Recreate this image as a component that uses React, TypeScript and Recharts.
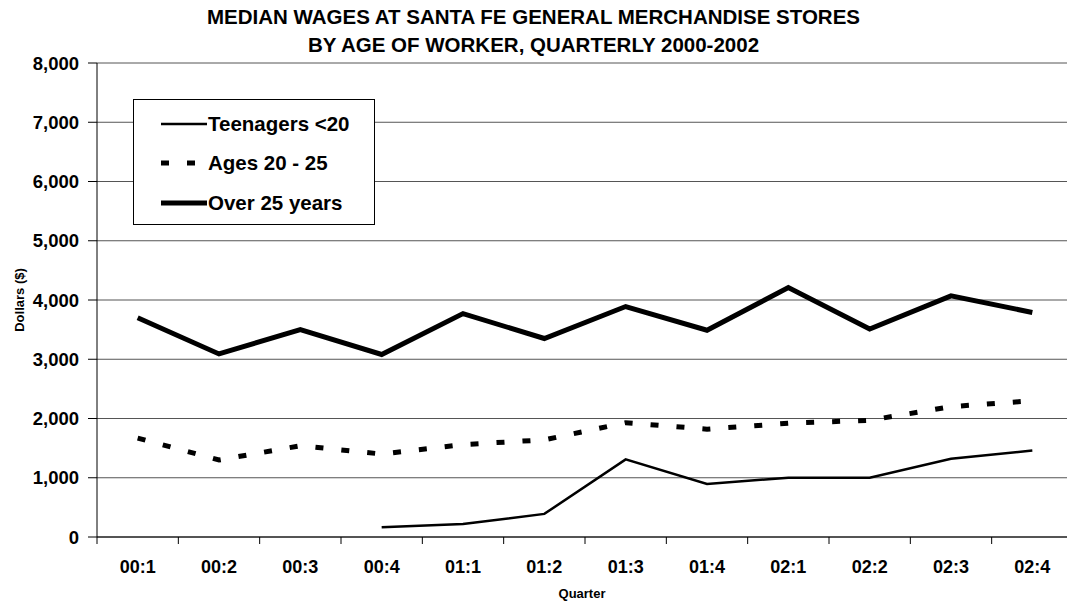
import React from 'react';
import { LineChart, Line, XAxis, YAxis, CartesianGrid, Legend } from 'recharts';

const quarters = ['00:1', '00:2', '00:3', '00:4', '01:1', '01:2', '01:3', '01:4', '02:1', '02:2', '02:3', '02:4'];
const teenagers = [null, null, null, 165, 220, 390, 1310, 895, 1000, 1000, 1320, 1460];
const ages20to25 = [1670, 1300, 1540, 1400, 1560, 1640, 1930, 1820, 1920, 1970, 2200, 2300];
const over25 = [3700, 3090, 3500, 3080, 3770, 3350, 3890, 3490, 4210, 3510, 4070, 3790];
const yTicks = [0, 1000, 2000, 3000, 4000, 5000, 6000, 7000, 8000];

const FONT = '"Liberation Sans", Arial, sans-serif';

// series config, also used by the legend
const SERIES = [
  { key: 'teen', name: 'Teenagers <20', width: 2.5, dash: undefined as string | undefined },
  { key: 'ages', name: 'Ages 20 - 25', width: 5, dash: '8 18' },
  { key: 'over', name: 'Over 25 years', width: 5, dash: undefined as string | undefined },
];

const data = quarters.map((q, i) => ({
  q,
  pos: i + 0.5,
  teen: teenagers[i],
  ages: ages20to25[i],
  over: over25[i],
}));

// x ticks: integers = category boundaries (tick marks), halves = category labels
const xTicks: number[] = [];
for (let i = 0; i <= quarters.length * 2; i++) xTicks.push(i / 2);

const tickStyle = { fontFamily: FONT, fontWeight: 'bold', fontSize: 18, fill: '#000' };

const QuarterTick = (props: any) => {
  const { x, y, payload } = props;
  const v = payload.value as number;
  if (Number.isInteger(v)) {
    return <line x1={x} y1={y} x2={x} y2={y + 7} stroke="#000" strokeWidth={1} />;
  }
  return (
    <text x={x} y={y + 23} dy="0.71em" textAnchor="middle" {...tickStyle}>
      {quarters[Math.floor(v)]}
    </text>
  );
};

const LegendBox = () => (
  <div
    style={{
      width: 242,
      height: 126,
      boxSizing: 'border-box',
      border: '1px solid #000',
      background: '#fff',
      paddingTop: 4,
      paddingLeft: 27,
      fontFamily: FONT,
    }}
  >
    {SERIES.map((s) => (
      <div key={s.key} style={{ display: 'flex', alignItems: 'center', height: 39.5 }}>
        <svg width={46} height={10} style={{ display: 'block' }}>
          <line x1={0} y1={5} x2={46} y2={5} stroke="#000" strokeWidth={s.width} strokeDasharray={s.dash} />
        </svg>
        <span style={{ fontSize: 20.5, fontWeight: 'bold', color: '#000', marginLeft: 1 }}>{s.name}</span>
      </div>
    ))}
  </div>
);

export default function App() {
  return (
    <div
      style={{
        position: 'fixed',
        left: 0,
        top: 0,
        width: 1067,
        height: 603,
        overflow: 'hidden',
        background: '#fff',
        fontFamily: FONT,
      }}
    >
      <LineChart
        width={1073}
        height={603}
        data={data}
        margin={{ top: 63, right: 0, bottom: 0, left: 0 }}
        style={{ position: 'absolute', left: 0, top: 0 }}
      >
        <CartesianGrid vertical={false} stroke="#555" strokeWidth={1} />
        <XAxis
          type="number"
          dataKey="pos"
          domain={[0, 12]}
          ticks={xTicks}
          interval={0}
          tickLine={false}
          tickSize={0}
          tickMargin={0}
          tick={<QuarterTick />}
          height={66}
          stroke="#000"
          allowDataOverflow
        />
        <YAxis
          type="number"
          domain={[0, 8000]}
          ticks={yTicks}
          width={97}
          tickSize={9}
          tickMargin={9}
          stroke="#000"
          tick={{ ...tickStyle, fontSize: 18.5 }}
          tickFormatter={(v: number) => v.toLocaleString('en-US')}
        />
        <Legend
          layout="vertical"
          align="center"
          verticalAlign="middle"
          content={() => <LegendBox />}
          wrapperStyle={{ position: 'absolute', left: 133, top: 99, width: 242, height: 126 }}
        />
        {SERIES.map((s) => (
          <Line
            key={s.key}
            type="linear"
            dataKey={s.key}
            name={s.name}
            stroke="#000"
            strokeWidth={s.width}
            strokeDasharray={s.dash}
            dot={false}
            activeDot={false}
            connectNulls={false}
            isAnimationActive={false}
          />
        ))}
      </LineChart>

      <div
        style={{
          position: 'absolute',
          left: 0,
          top: 3,
          width: 1067,
          textAlign: 'center',
          fontSize: 20.5,
          lineHeight: '28px',
          fontWeight: 'bold',
          color: '#000',
        }}
      >
        MEDIAN WAGES AT SANTA FE GENERAL MERCHANDISE STORES
        <br />
        BY AGE OF WORKER, QUARTERLY 2000-2002
      </div>
      <div
        style={{
          position: 'absolute',
          left: 19,
          top: 300,
          transform: 'translate(-50%, -50%) rotate(-90deg)',
          fontSize: 13,
          fontWeight: 'bold',
          whiteSpace: 'nowrap',
          color: '#000',
        }}
      >
        Dollars ($)
      </div>
      <div
        style={{
          position: 'absolute',
          left: 582,
          top: 593,
          transform: 'translate(-50%, -50%)',
          fontSize: 13,
          fontWeight: 'bold',
          whiteSpace: 'nowrap',
          color: '#000',
        }}
      >
        Quarter
      </div>
    </div>
  );
}
